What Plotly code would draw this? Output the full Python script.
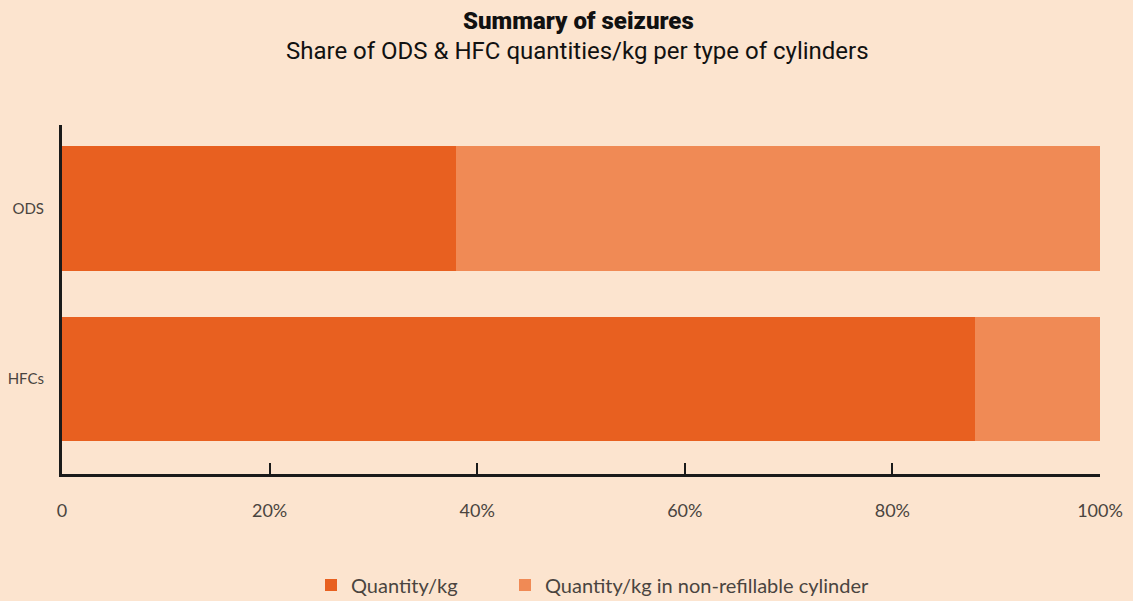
import plotly.graph_objects as go

categories = ["HFCs", "ODS"]
quantity_kg = [88, 38]
non_refillable = [12, 62]
tick_vals = [0, 20, 40, 60, 80, 100]
tick_text = ["0", "20%", "40%", "60%", "80%", "100%"]
series_names = ["Quantity/kg", "Quantity/kg in non-refillable cylinder"]

BG = "#FCE4CF"
DARK = "#E86020"
LIGHT = "#F08A55"
TXT = "#4a4440"

fig = go.Figure()
fig.add_trace(go.Bar(y=categories, x=quantity_kg, orientation="h", name=series_names[0],
                     marker=dict(color=DARK, line=dict(width=0)), width=0.73, legend="legend"))
fig.add_trace(go.Bar(y=categories, x=non_refillable, orientation="h", name=series_names[1],
                     marker=dict(color=LIGHT, line=dict(width=0)), width=0.73, legend="legend2"))

leg_common = dict(orientation="h", xref="container", yref="container", xanchor="left",
                  y=1 - 585 / 601, yanchor="middle", font=dict(size=20, color=TXT),
                  itemwidth=30, bgcolor="rgba(0,0,0,0)")

fig.update_layout(
    barmode="stack",
    width=1133, height=601,
    paper_bgcolor=BG, plot_bgcolor=BG,
    margin=dict(l=62, r=33, t=125, b=127, autoexpand=False),
    font=dict(family="Lato, sans-serif", color=TXT, size=15),
    showlegend=True,
    legend=dict(x=311 / 1133, **leg_common),
    legend2=dict(x=505 / 1133, **leg_common),
    hovermode=False,
)
fig.add_annotation(text="Summary of seizures", xref="paper", yref="paper",
                   x=(578 - 62) / 1038, y=(474 - 21) / 349, xanchor="center", yanchor="middle",
                   showarrow=False, font=dict(family="Roboto", size=24, weight=900, color="#111111"))
fig.add_annotation(text="Share of ODS & HFC quantities/kg per type of cylinders", xref="paper", yref="paper",
                   x=(577 - 62) / 1038, y=(474 - 51) / 349, xanchor="center", yanchor="middle",
                   showarrow=False, font=dict(family="Roboto", size=24, color="#111111"))

fig.update_xaxes(range=[0, 100], tickvals=tick_vals, ticktext=tick_text, automargin=False,
                 showline=True, linecolor="#1a1a1a", linewidth=3,
                 ticks="inside", ticklen=11, tickwidth=2, tickcolor="#1a1a1a",
                 showgrid=False, zeroline=False, ticklabelstandoff=18,
                 tickfont=dict(size=18, color=TXT))
fig.update_yaxes(categoryorder="array", categoryarray=categories, range=[-0.556, 1.49],
                 automargin=False,
                 showline=True, linecolor="#1a1a1a", linewidth=3, ticks="",
                 showgrid=False, zeroline=False, ticklabelstandoff=12,
                 tickfont=dict(size=15, color=TXT))

fig.write_html("out.html", config={"displayModeBar": False},
               post_script="document.body.style.margin='0';")
